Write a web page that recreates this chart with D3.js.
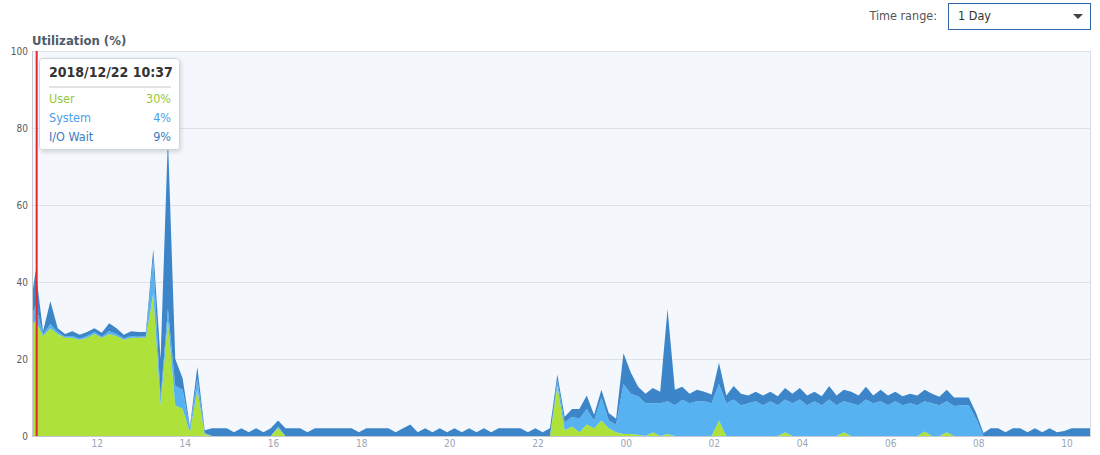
<!DOCTYPE html>
<html>
<head>
<meta charset="utf-8">
<script src="https://cdn.jsdelivr.net/npm/d3@7"></script>
<style>
  html, body { margin: 0; padding: 0; background: #fff; }
  svg { display: block; font-family: "DejaVu Sans Condensed", "DejaVu Sans", sans-serif; }
</style>
</head>
<body>
<svg id="chart" width="1100" height="455"></svg>
<script>
// ---- data (10-minute samples starting 2018-12-22 10:27) ----
const startTime = "2018-12-22 10:27";
const stepMinutes = 10;
const seriesNames = ["User", "System", "I/O Wait"];
const user = [
  27.5,30,26,28,26.5,25.5,25.5,25,25.5,26.5,
  25.5,26.5,26,25,25.5,25.5,25.5,37,8,30,
  8,7,1,12,0.5,0,0,0,0,0,
  0,0,0,0,2,0,0,0,0,0,
  0,0,0,0,0,0,0,0,0,0,
  0,0,0,0,0,0,0,0,0,0,
  0,0,0,0,0,0,0,0,0,0,
  0,0,13,1.5,2.5,1,3,2,4,2,
  1,0.5,0.5,0.3,0,1,0,0.5,0,0,
  0,0,0,0,4,0,0,0,0,0,
  0,0,0,1,0,0,0,0,0,0,
  0,1,0,0,0,0,0,0,0,0,
  0,0,1.2,0,0,1,0,0,0,0,
  0,0,0,0,0,0,0,0,0,0,
  0,0,0,0,0,0
];
const system = [
  1,4,0.5,1,0.5,0.3,0.5,0.3,0.5,0.5,
  0.3,0.8,0.5,0.3,0.5,0.3,0.5,9,2,3,
  5,5,1,3,0.3,0,0,0,0,0,
  0,0,0,0,0.5,0,0,0,0,0,
  0,0,0,0,0,0,0,0,0,0,
  0,0,0,0,0,0,0,0,0,0,
  0,0,0,0,0,0,0,0,0,0,
  0,0,1.5,2,2.5,3.5,4,2,6,2,
  2,13,10.5,10,8.5,7.5,8.5,8.5,8,9.4,
  8.5,9,9,8.5,9.5,8.5,9.5,8,8.5,9,
  8,9,8,8.5,8.5,9.5,8,9,8,9.5,
  8,8,8.5,8,9.5,8.5,9,8,9,8,
  8.5,8,7.8,8.5,8,8,7.8,8,8,4.5,
  0,0,0,0,0,0,0,0,0,0,
  0,0,0,0,0,0
];
const iowait = [
  1.5,9,0.7,6,1,0.7,1.2,1,1,1,
  1,2,1.5,1,1.2,1.2,1,2.5,10,44.5,
  7,3,0.5,3,0.7,2,2,2,1,2,
  1,2,1,2,1.5,2,2,2,1,2,
  2,2,2,2,2,1,2,2,2,2,
  1,2,3,1,2,1,2,1,2,1,
  2,1,2,1,2,2,2,2,1,2,
  1,2,1.5,1.5,2,2.5,3.5,1.5,2,2,
  1.5,8,5.5,2.5,2.5,4,3,24,4,3.4,
  2.5,3,2.5,2.3,5.5,2,3.5,3,2,2.5,
  2.5,2.5,2.3,3,2.5,3,2.5,2.5,2.3,3.5,
  2.5,3,3,2.5,3.3,2,3,2.5,2.5,2.3,
  2.5,2.5,3,2.5,2.2,3,2.2,2,2,1.5,
  0.8,2,2,1,2,2,1,2,1,2,
  1,1.3,2,2,2,2
];
const yTicks = [0, 20, 40, 60, 80, 100];
const domainStart = "2018-12-22 10:32";
const domainEnd = "2018-12-23 10:32";
const tooltipTime = "2018/12/22 10:37";
const tooltipValues = ["30%", "4%", "9%"];
const cursorTime = "2018-12-22 10:37";

// ---- layout ----
const parse = d3.timeParse("%Y-%m-%d %H:%M");
const m = { left: 32, right: 1090, top: 51, bottom: 436 };
const colors = { user: "#aee23a", system: "#56b2f0", iowait: "#3c85c8" };

const t0 = parse(startTime);
const n = Math.min(user.length, system.length, iowait.length);
const rows = d3.range(n).map(i => ({
  time: d3.timeMinute.offset(t0, i * stepMinutes),
  user: user[i], system: system[i], iowait: iowait[i]
}));

const x = d3.scaleTime().domain([parse(domainStart), parse(domainEnd)]).range([m.left, m.right]);
const y = d3.scaleLinear().domain([0, 100]).range([m.bottom, m.top]);

const svg = d3.select("#chart");

const defs = svg.append("defs");
defs.append("clipPath").attr("id", "clip").append("rect")
  .attr("x", m.left).attr("y", m.top).attr("width", m.right - m.left).attr("height", m.bottom - m.top);
const f = defs.append("filter").attr("id", "shadow").attr("x", "-10%").attr("y", "-10%").attr("width", "130%").attr("height", "140%");
f.append("feDropShadow").attr("dx", 1).attr("dy", 2).attr("stdDeviation", 2).attr("flood-color", "#000").attr("flood-opacity", 0.15);

svg.append("rect").attr("x", m.left).attr("y", m.top).attr("width", m.right - m.left).attr("height", m.bottom - m.top)
  .attr("fill", "#f4f8fd");

svg.append("g").selectAll("line").data(yTicks).join("line")
  .attr("x1", m.left).attr("x2", m.right)
  .attr("y1", d => Math.round(y(d)) + 0.5).attr("y2", d => Math.round(y(d)) + 0.5)
  .attr("stroke", "#dde2e8").attr("stroke-width", 1);

const keys = ["user", "system", "iowait"];
const stack = d3.stack().keys(keys)(rows);
const area = d3.area().x(d => x(d.data.time)).y0(d => y(d[0])).y1(d => y(d[1]));
svg.append("g").attr("clip-path", "url(#clip)").selectAll("path").data(stack).join("path")
  .attr("d", area).attr("fill", d => colors[d.key]);

svg.append("line").attr("x1", m.left + 0.5).attr("x2", m.left + 0.5).attr("y1", m.top).attr("y2", m.bottom)
  .attr("stroke", "#c3cad6");
svg.append("line").attr("x1", m.right + 0.5).attr("x2", m.right + 0.5).attr("y1", m.top).attr("y2", m.bottom)
  .attr("stroke", "#d8dde5");
svg.append("line").attr("x1", m.left).attr("x2", m.right + 1).attr("y1", m.bottom + 0.5).attr("y2", m.bottom + 0.5)
  .attr("stroke", "#c3cad6");

const yAxis = d3.axisLeft(y).tickValues(yTicks).tickSize(0).tickPadding(4);
const gy = svg.append("g").attr("transform", `translate(${m.left},0)`).call(yAxis);
gy.select(".domain").remove();
gy.selectAll("text").attr("fill", "#5a5a5a").style("font-size", "10px").style("font-family", "'DejaVu Sans Condensed','DejaVu Sans',sans-serif");

const xAxis = d3.axisBottom(x).ticks(d3.timeHour.every(2)).tickFormat(d3.timeFormat("%H")).tickSize(0).tickPadding(4);
const gx = svg.append("g").attr("transform", `translate(0,${m.bottom})`).call(xAxis);
gx.select(".domain").remove();
gx.selectAll("text").attr("fill", "#9aa6b6").style("font-size", "10px").style("font-family", "'DejaVu Sans Condensed','DejaVu Sans',sans-serif");

svg.append("text").attr("x", 32).attr("y", 45).text("Utilization (%)")
  .attr("fill", "#4e5b68").style("font-size", "13px").style("font-weight", "bold");

const cx = x(parse(cursorTime));
svg.append("line").attr("x1", cx + 1).attr("x2", cx + 1).attr("y1", m.top).attr("y2", m.bottom)
  .attr("stroke", "#e5262c").attr("stroke-width", 2);

const tip = svg.append("g");
tip.append("rect").attr("x", 39.5).attr("y", 58.5).attr("width", 140).attr("height", 91).attr("rx", 3)
  .attr("fill", "#fff").attr("stroke", "#cfd6de").attr("filter", "url(#shadow)");
tip.append("text").attr("x", 49).attr("y", 77).text(tooltipTime)
  .attr("fill", "#333").style("font-size", "14px").style("font-weight", "bold");
tip.append("line").attr("x1", 49).attr("x2", 171).attr("y1", 87).attr("y2", 87).attr("stroke", "#e3e3e3").attr("stroke-width", 2);
const tipColors = ["#96c83a", "#4a9fe6", "#3a7cc2"];
seriesNames.forEach((s, i) => {
  const yy = 102.5 + i * 19.2;
  tip.append("text").attr("x", 49).attr("y", yy).text(s).attr("fill", tipColors[i]).style("font-size", "12.5px");
  tip.append("text").attr("x", 171).attr("y", yy).attr("text-anchor", "end").text(tooltipValues[i])
    .attr("fill", tipColors[i]).style("font-size", "12.5px");
});

svg.append("text").attr("x", 937).attr("y", 20).attr("text-anchor", "end").text("Time range:")
  .attr("fill", "#555").style("font-size", "12.5px");
svg.append("rect").attr("x", 948.5).attr("y", 3.5).attr("width", 142).attr("height", 26)
  .attr("fill", "#fff").attr("stroke", "#2f66a8");
svg.append("text").attr("x", 958).attr("y", 20).text("1 Day").attr("fill", "#333").style("font-size", "12.5px");
svg.append("path").attr("d", "M1073,14 L1083,14 L1078,19 Z").attr("fill", "#444");
</script>
</body>
</html>
